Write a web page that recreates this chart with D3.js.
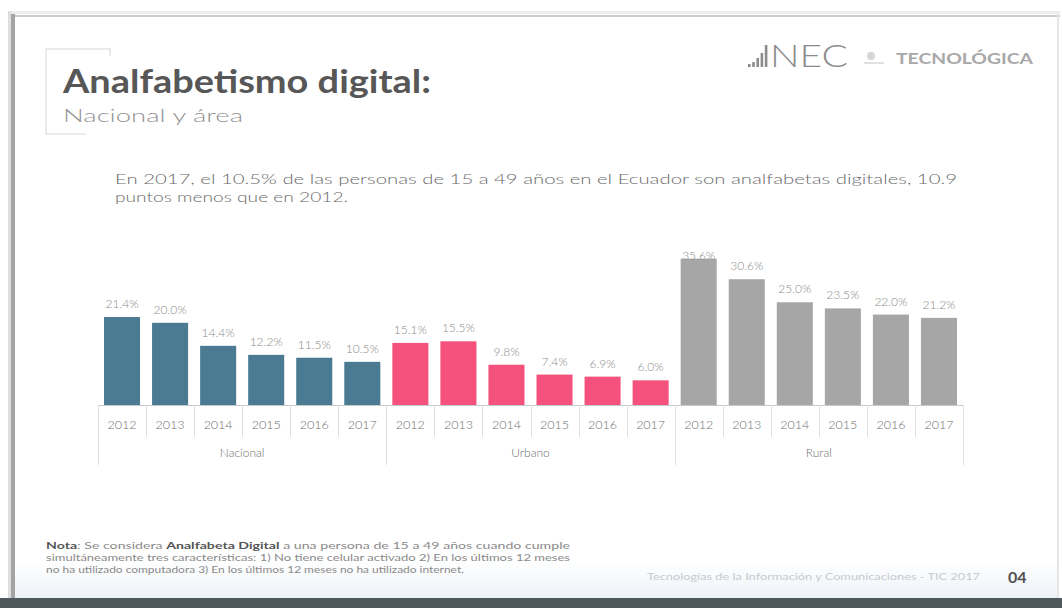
<!DOCTYPE html>
<html>
<head>
<meta charset="utf-8">
<script src="https://cdn.jsdelivr.net/npm/d3@7"></script>
<style>
  html, body { margin: 0; padding: 0; background: #ffffff; }
  svg { display: block; }
</style>
</head>
<body>
<svg id="slide" width="1062" height="608"></svg>
<script>
// ---- data ----
const years = ["2012", "2013", "2014", "2015", "2016", "2017"];
const areas = ["Nacional", "Urbano", "Rural"];
const nacional = [21.4, 20.0, 14.4, 12.2, 11.5, 10.5];
const urbano   = [15.1, 15.5, 9.8, 7.4, 6.9, 6.0];
const rural    = [35.6, 30.6, 25.0, 23.5, 22.0, 21.2];
const areaColors = ["#4b7b93", "#f4527c", "#a6a6a6"];

const title = "Analfabetismo digital:";
const subtitle = "Nacional y área";
const lead1 = "En 2017, el 10.5% de las personas de 15 a 49 años en el Ecuador son analfabetas digitales, 10.9";
const lead2 = "puntos menos que en 2012.";
const footer = "Tecnologías de la Información y Comunicaciones - TIC 2017";
const pageNo = "04";

// rows for the grouped category axis
const seriesByArea = [nacional, urbano, rural];
const rows = [];
areas.forEach((a, gi) => years.forEach((yr, i) => rows.push({
  key: a + "-" + yr, area: a, year: yr, value: seriesByArea[gi][i], color: areaColors[gi]
})));

const svg = d3.select("#slide");
const font = "Lato, 'Open Sans', sans-serif";

// ---- slide frame ----
svg.append("rect").attr("x", 0).attr("y", 0).attr("width", 1062).attr("height", 608).attr("fill", "#ffffff");
const grad = svg.append("defs").append("linearGradient").attr("id", "foot").attr("x1", 0).attr("x2", 0).attr("y1", 0).attr("y2", 1);
grad.append("stop").attr("offset", 0).attr("stop-color", "#ffffff");
grad.append("stop").attr("offset", 1).attr("stop-color", "#eef3f8");
svg.append("rect").attr("x", 14).attr("y", 560).attr("width", 1044).attr("height", 38).attr("fill", "url(#foot)");
svg.append("rect").attr("x", 8).attr("y", 11).attr("width", 1052).attr("height", 3).attr("fill", "#ececec");
svg.append("rect").attr("x", 8).attr("y", 15).attr("width", 1052).attr("height", 2).attr("fill", "#cccccc");
svg.append("rect").attr("x", 8).attr("y", 11).attr("width", 3).attr("height", 590).attr("fill", "#dedede");
svg.append("rect").attr("x", 11).attr("y", 14).attr("width", 4).attr("height", 587).attr("fill", "#a4a4a4");
svg.append("rect").attr("x", 1057).attr("y", 14).attr("width", 2).attr("height", 586).attr("fill", "#e6e6e6");
svg.append("rect").attr("x", 0).attr("y", 598).attr("width", 1062).attr("height", 10).attr("fill", "#4f585d");

// ---- title block ----
const deco = svg.append("g").attr("fill", "none").attr("stroke", "#ebebeb").attr("stroke-width", 2);
deco.append("path").attr("d", "M110,56 L110,49 L46,49 L46,134 L86,134");
svg.append("text").attr("x", 63).attr("y", 93).attr("font-family", font).attr("font-weight", 700)
  .attr("font-size", 32).attr("fill", "#575757").attr("textLength", 368).attr("lengthAdjust", "spacingAndGlyphs").text(title);
svg.append("text").attr("x", 63).attr("y", 122).attr("font-family", font).attr("font-weight", 300)
  .attr("font-size", 17).attr("fill", "#939393").attr("textLength", 180).attr("lengthAdjust", "spacingAndGlyphs").text(subtitle);

// ---- logos ----
const logo = svg.append("g").attr("fill", "#8c8c8c");
[3, 5, 9, 14, 22].forEach((h, i) => logo.append("rect")
  .attr("x", 748 + i * 4.2).attr("y", 67 - h).attr("width", 2.6).attr("height", h));
logo.append("text").attr("x", 770).attr("y", 67).attr("font-family", font).attr("font-weight", 300)
  .attr("font-size", 32).attr("textLength", 78).attr("lengthAdjust", "spacingAndGlyphs").text("NEC");
svg.append("circle").attr("cx", 871).attr("cy", 56).attr("r", 4).attr("fill", "#d6d6d6");
svg.append("path").attr("d", "M864,63 L884,63").attr("stroke", "#d6d6d6").attr("stroke-width", 1.5);
svg.append("text").attr("x", 896).attr("y", 64).attr("font-family", font).attr("font-weight", 700)
  .attr("font-size", 15).attr("fill", "#a8a8a8").attr("textLength", 137).attr("lengthAdjust", "spacingAndGlyphs").text("TECNOLÓGICA");

// ---- lead paragraph ----
svg.append("text").attr("x", 115).attr("y", 184).attr("font-family", font).attr("font-weight", 300).attr("font-size", 13.5)
  .attr("fill", "#6a6a6a").attr("textLength", 842).attr("lengthAdjust", "spacingAndGlyphs").text(lead1);
svg.append("text").attr("x", 115).attr("y", 202).attr("font-family", font).attr("font-weight", 300).attr("font-size", 13.5)
  .attr("fill", "#6a6a6a").attr("textLength", 233).attr("lengthAdjust", "spacingAndGlyphs").text(lead2);

// ---- chart ----
const x = d3.scaleBand().domain(rows.map(d => d.key)).range([98, 963]).paddingInner(0.25).paddingOuter(0.125);
const y = d3.scaleLinear().domain([0, 40]).range([405, 240.6]);
const chart = svg.append("g");

chart.selectAll("rect.bar").data(rows).join("rect").attr("class", "bar")
  .attr("x", d => x(d.key)).attr("width", x.bandwidth())
  .attr("y", d => y(d.value)).attr("height", d => y(0) - y(d.value))
  .attr("fill", d => d.color);

// value labels, kept inside the plot's top edge
chart.selectAll("text.val").data(rows).join("text").attr("class", "val")
  .attr("x", d => x(d.key) + x.bandwidth() / 2)
  .attr("y", d => Math.max(y(d.value) - 9, 260))
  .attr("text-anchor", "middle").attr("font-family", font).attr("font-weight", 300).attr("font-size", 12)
  .attr("fill", "#8a8a8a").text(d => d.value.toFixed(1) + "%");

// category axis with year ticks and area groups
const step = x.step();
const x0 = x.range()[0];
const grid = chart.append("g").attr("stroke", "#dedede").attr("stroke-width", 1);
grid.append("line").attr("x1", x0).attr("x2", x.range()[1]).attr("y1", 405.5).attr("y2", 405.5).attr("stroke", "#c8c8c8");
d3.range(rows.length + 1).forEach(i => {
  const xx = Math.round(x0 + i * step) + 0.5;
  const isGroup = i % years.length === 0;
  grid.append("line").attr("x1", xx).attr("x2", xx).attr("y1", 405).attr("y2", isGroup ? 465 : 437);
});
chart.selectAll("text.yr").data(rows).join("text").attr("class", "yr")
  .attr("x", d => x(d.key) + x.bandwidth() / 2).attr("y", 429)
  .attr("text-anchor", "middle").attr("font-family", font).attr("font-weight", 300).attr("font-size", 12.5)
  .attr("fill", "#707070").text(d => d.year);
chart.selectAll("text.area").data(areas).join("text").attr("class", "area")
  .attr("x", (a, gi) => x0 + (gi * years.length + years.length / 2) * step).attr("y", 457)
  .attr("text-anchor", "middle").attr("font-family", font).attr("font-weight", 300).attr("font-size", 12)
  .attr("fill", "#707070").text(a => a);

// ---- note ----
const note = svg.append("g").attr("font-family", font).attr("font-size", 8.5).attr("fill", "#8a8a8a");
const n1 = note.append("text").attr("x", 46).attr("y", 549).attr("textLength", 524).attr("lengthAdjust", "spacingAndGlyphs");
n1.append("tspan").attr("font-weight", 700).attr("fill", "#555").text("Nota");
n1.append("tspan").text(": Se considera ");
n1.append("tspan").attr("font-weight", 700).attr("fill", "#555").text("Analfabeta Digital");
n1.append("tspan").text(" a una persona de 15 a 49 años cuando cumple");
note.append("text").attr("x", 46).attr("y", 561).attr("textLength", 524).attr("lengthAdjust", "spacingAndGlyphs")
  .text("simultáneamente tres características: 1) No tiene celular activado 2) En los últimos 12 meses");
note.append("text").attr("x", 46).attr("y", 573).attr("textLength", 418).attr("lengthAdjust", "spacingAndGlyphs")
  .text("no ha utilizado computadora 3) En los últimos 12 meses no ha utilizado internet.");

// ---- footer ----
svg.append("text").attr("x", 647).attr("y", 580).attr("font-family", font).attr("font-size", 8.5)
  .attr("fill", "#c6cad0").attr("textLength", 333).attr("lengthAdjust", "spacingAndGlyphs").text(footer);
svg.append("text").attr("x", 1008).attr("y", 583).attr("font-family", font).attr("font-weight", 700)
  .attr("font-size", 16).attr("fill", "#505050").text(pageNo);
</script>
</body>
</html>
